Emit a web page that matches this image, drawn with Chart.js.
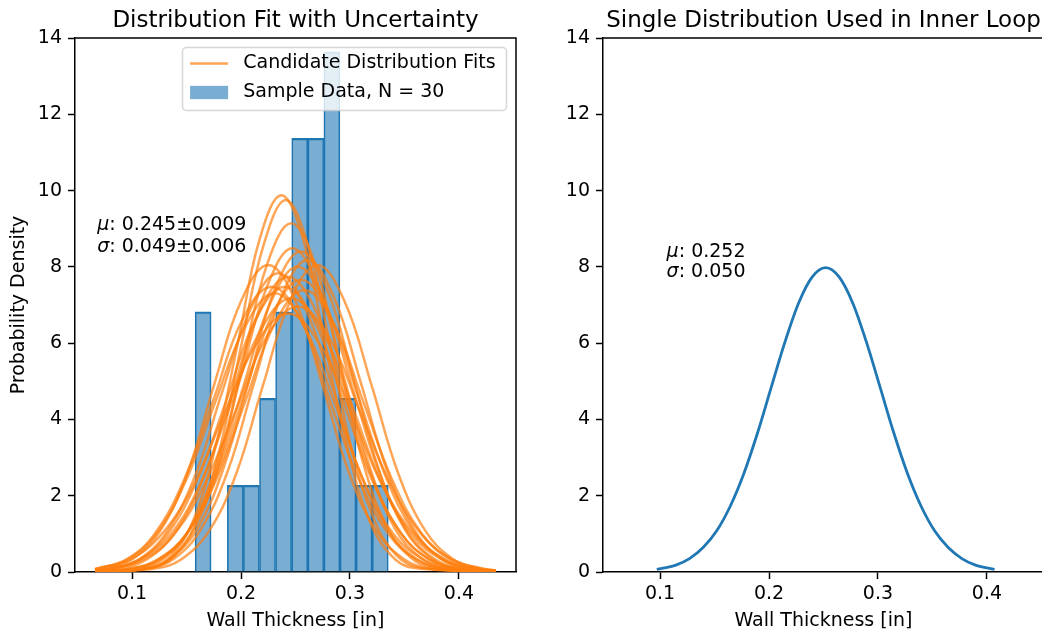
<!DOCTYPE html>
<html><head><meta charset="utf-8">
<script src="https://cdn.jsdelivr.net/npm/chart.js@4/dist/chart.umd.min.js"></script>
<style>
html,body{margin:0;padding:0;width:1042px;height:632px;overflow:hidden;background:#fff;}
canvas{position:absolute;top:0;}
#c1{left:0;}
#c2{left:540px;}
</style></head><body>
<canvas id="c1" width="540" height="632"></canvas>
<canvas id="c2" width="510" height="632"></canvas>
<script>
// ---------- data ----------
const xTickValues = [0.1, 0.2, 0.3, 0.4];
const yTickValues = [0, 2, 4, 6, 8, 10, 12, 14];
const binCenters = [0.1652, 0.1800, 0.1948, 0.2095, 0.2243, 0.2391, 0.2539, 0.2687, 0.2834, 0.2982, 0.3130, 0.3278];
const binDensity = [6.82, 0, 2.27, 2.27, 4.55, 6.82, 11.37, 11.37, 13.64, 4.55, 2.27, 2.27];
const candidateFits = [
 [[.066,0],[.116,.11],[.136,.43],[.156,1.34],[.176,3.21],[.197,5.99],[.217,8.72],[.237,9.88],[.257,8.72],[.277,5.99],[.298,3.21],[.318,1.34],[.338,.43],[.358,.11],[.434,0]],
 [[.066,0],[.118,.11],[.139,.43],[.159,1.32],[.180,3.17],[.200,5.91],[.221,8.60],[.241,9.75],[.261,8.60],[.282,5.91],[.302,3.17],[.323,1.32],[.343,.43],[.364,.11],[.434,0]],
 [[.066,0],[.115,.10],[.137,.40],[.159,1.24],[.181,2.97],[.202,5.54],[.224,8.07],[.246,9.14],[.268,8.07],[.290,5.54],[.311,2.97],[.333,1.24],[.355,.40],[.377,.10],[.434,0]],
 [[.066,0],[.106,.09],[.130,.37],[.153,1.15],[.177,2.76],[.200,5.15],[.224,7.49],[.247,8.49],[.271,7.49],[.294,5.15],[.318,2.76],[.341,1.15],[.365,.37],[.388,.09],[.434,0]],
 [[.066,0],[.113,.09],[.136,.37],[.160,1.14],[.184,2.73],[.208,5.09],[.231,7.41],[.255,8.40],[.279,7.41],[.303,5.09],[.326,2.73],[.350,1.14],[.374,.37],[.398,.09],[.434,.01]],
 [[.066,0],[.115,.09],[.139,.36],[.163,1.11],[.188,2.66],[.212,4.96],[.237,7.22],[.261,8.18],[.285,7.22],[.310,4.96],[.334,2.66],[.359,1.11],[.383,.36],[.407,.09],[.434,.01]],
 [[.066,0],[.121,.09],[.146,.35],[.171,1.09],[.196,2.61],[.220,4.88],[.245,7.10],[.270,8.05],[.295,7.10],[.320,4.88],[.344,2.61],[.369,1.09],[.394,.35],[.419,.09],[.434,.03]],
 [[.066,.05],[.076,.09],[.101,.35],[.126,1.09],[.151,2.61],[.175,4.88],[.200,7.10],[.225,8.05],[.250,7.10],[.275,4.88],[.299,2.61],[.324,1.09],[.349,.35],[.374,.09],[.434,0]],
 [[.066,.01],[.102,.09],[.127,.35],[.152,1.08],[.177,2.60],[.202,4.85],[.227,7.06],[.252,8.00],[.277,7.06],[.302,4.85],[.327,2.60],[.352,1.08],[.377,.35],[.402,.09],[.434,.01]],
 [[.066,.03],[.081,.09],[.107,.34],[.132,1.06],[.158,2.54],[.183,4.75],[.209,6.91],[.234,7.83],[.259,6.91],[.285,4.75],[.310,2.54],[.336,1.06],[.361,.34],[.387,.09],[.434,0]],
 [[.066,.02],[.089,.09],[.114,.34],[.140,1.05],[.166,2.51],[.192,4.69],[.217,6.83],[.243,7.74],[.269,6.83],[.295,4.69],[.320,2.51],[.346,1.05],[.372,.34],[.398,.09],[.434,.01]],
 [[.066,.01],[.099,.09],[.125,.34],[.151,1.04],[.177,2.49],[.203,4.65],[.229,6.76],[.255,7.66],[.281,6.76],[.307,4.65],[.333,2.49],[.359,1.04],[.385,.34],[.411,.09],[.434,.02]],
 [[.066,.07],[.095,.33],[.121,1.01],[.148,2.43],[.175,4.54],[.201,6.60],[.228,7.48],[.255,6.60],[.281,4.54],[.308,2.43],[.335,1.01],[.361,.33],[.388,.08],[.434,0]],
 [[.066,.04],[.080,.08],[.107,.33],[.133,1.01],[.160,2.43],[.187,4.54],[.213,6.60],[.240,7.48],[.267,6.60],[.293,4.54],[.320,2.43],[.347,1.01],[.373,.33],[.400,.08],[.434,.01]],
 [[.066,.01],[.096,.08],[.123,.32],[.150,1.00],[.177,2.40],[.204,4.48],[.231,6.52],[.258,7.39],[.285,6.52],[.312,4.48],[.339,2.40],[.366,1.00],[.393,.32],[.420,.08],[.434,.04]],
 [[.066,.08],[.095,.32],[.122,.99],[.149,2.37],[.176,4.43],[.204,6.45],[.231,7.31],[.258,6.45],[.286,4.43],[.313,2.37],[.340,.99],[.368,.32],[.395,.08],[.434,.01]],
 [[.066,.04],[.079,.08],[.107,.32],[.135,.97],[.163,2.33],[.190,4.35],[.218,6.34],[.246,7.18],[.274,6.34],[.302,4.35],[.329,2.33],[.357,.97],[.385,.32],[.413,.08],[.434,.02]],
 [[.066,.04],[.080,.08],[.109,.31],[.137,.94],[.166,2.26],[.195,4.22],[.223,6.14],[.252,6.96],[.281,6.14],[.309,4.22],[.338,2.26],[.367,.94],[.395,.31],[.424,.08],[.434,.04]],
 [[.066,.07],[.096,.30],[.125,.92],[.155,2.20],[.184,4.11],[.214,5.98],[.243,6.78],[.272,5.98],[.302,4.11],[.331,2.20],[.361,.92],[.390,.30],[.419,.08],[.434,.03]]
];
const singleFit = [[.097,.07],[.1145,.18],[.127,.35],[.1395,.64],[.152,1.08],[.1645,1.73],[.177,2.59],[.1895,3.65],[.202,4.84],[.2145,6.02],[.227,7.04],[.2395,7.73],[.252,7.98],[.2645,7.73],[.277,7.04],[.2895,6.02],[.302,4.84],[.3145,3.65],[.327,2.59],[.3395,1.73],[.352,1.08],[.3645,.64],[.377,.35],[.3895,.18],[.407,.07]];
const leftStats = [['μ', ': 0.245±0.009'], ['σ', ': 0.049±0.006']];
const rightStats = [['μ', ': 0.252'], ['σ', ': 0.050']];
const legendLabels = ['Candidate Distribution Fits', 'Sample Data, N = 30'];

// ---------- styling ----------
const FAM = '"DejaVu Sans", sans-serif';
const tickFont = {family: FAM, size: 19};
const X_MIN = 0.0476, X_MAX = 0.4524;
const ORANGE = 'rgba(255,127,14,0.7)';
const BLUE = '#1f77b4';
const BAR_FILL = 'rgba(31,119,180,0.6)';

function xScale() {
  return {
    type: 'linear', min: X_MIN, max: X_MAX, offset: false,
    afterBuildTicks: s => { s.ticks = xTickValues.map(v => ({value: v})); },
    afterFit: s => { s.height = 60; },
    ticks: {font: tickFont, color: '#000', padding: 4, maxRotation: 0, autoSkip: false, callback: v => v.toFixed(1)},
    grid: {display: true, offset: false, drawOnChartArea: false, drawTicks: true, tickLength: 7, tickColor: '#000', tickWidth: 1.5},
    border: {display: true, color: '#000', width: 1.5},
    title: {display: true, text: 'Wall Thickness [in]', font: tickFont, color: '#000', padding: {top: 4, bottom: 0}}
  };
}
function yScale(width, withTitle) {
  return {
    type: 'linear', min: 0, max: 14,
    afterBuildTicks: s => { s.ticks = yTickValues.map(v => ({value: v})); },
    afterFit: s => { s.width = width; },
    ticks: {font: tickFont, color: '#000', padding: 6, autoSkip: false},
    grid: {display: true, drawOnChartArea: false, drawTicks: true, tickLength: 7, tickColor: '#000', tickWidth: 1.5},
    border: {display: true, color: '#000', width: 1.5},
    title: {display: withTitle, text: 'Probability Density', font: tickFont, color: '#000', padding: {top: 8, bottom: 0}}
  };
}

const framePlugin = {
  id: 'frame',
  afterDraw(chart, args, opts) {
    const {ctx, chartArea: a} = chart;
    ctx.save();
    ctx.strokeStyle = '#000'; ctx.lineWidth = 1.5;
    ctx.beginPath(); ctx.moveTo(a.left, a.top); ctx.lineTo(a.right, a.top); ctx.lineTo(a.right, a.bottom); ctx.stroke();
    ctx.fillStyle = '#000';
    ctx.font = '23px ' + FAM;
    ctx.textAlign = 'center'; ctx.textBaseline = 'alphabetic';
    ctx.fillText(opts.title, (a.left + a.right) / 2, a.top - 11.4);
    const xs = chart.scales.x, ys = chart.scales.y;
    const px = xs.getPixelForValue(opts.statX), py = ys.getPixelForValue(opts.statY);
    ctx.textAlign = 'left';
    opts.stats.forEach((ln, i) => {
      const yy = py + i * opts.lineGap;
      ctx.font = 'italic 19px ' + FAM;
      ctx.fillText(ln[0], px, yy);
      const w = ctx.measureText(ln[0]).width;
      ctx.font = '19px ' + FAM;
      ctx.fillText(ln[1], px + w, yy);
    });
    ctx.restore();
  }
};

const legendPlugin = {
  id: 'mplLegend',
  afterDatasetsDraw(chart, args, opts) {
    if (!opts.show) return;
    const {ctx, chartArea: a} = chart;
    const w = 324, h = 63;
    const r = a.right - 9.5, l = r - w, t = a.top + 9.5;
    ctx.save();
    ctx.beginPath();
    if (ctx.roundRect) ctx.roundRect(l, t, w, h, 4); else ctx.rect(l, t, w, h);
    ctx.fillStyle = 'rgba(255,255,255,0.8)'; ctx.fill();
    ctx.strokeStyle = 'rgba(204,204,204,0.8)'; ctx.lineWidth = 1.5; ctx.stroke();
    const row1 = t + 16, row2 = t + 45;
    const hx0 = l + 7.6, hx1 = hx0 + 38;
    ctx.strokeStyle = ORANGE; ctx.lineWidth = 2.5;
    ctx.beginPath(); ctx.moveTo(hx0, row1); ctx.lineTo(hx1, row1); ctx.stroke();
    ctx.fillStyle = BAR_FILL;
    ctx.fillRect(hx0, row2 - 6.65, 38, 13.3);
    ctx.fillStyle = '#000'; ctx.font = '19px ' + FAM;
    ctx.textAlign = 'left'; ctx.textBaseline = 'middle';
    ctx.fillText(legendLabels[0], hx1 + 15.2, row1);
    ctx.fillText(legendLabels[1], hx1 + 15.2, row2);
    ctx.restore();
  }
};

const lineSets = candidateFits.map(pts => ({
  type: 'line',
  data: pts.map(p => ({x: p[0], y: p[1]})),
  borderColor: ORANGE, borderWidth: 2.5, pointRadius: 0, fill: false,
  tension: 0.4, order: 0
}));
const barSet = {
  type: 'bar',
  data: binCenters.map((x, i) => ({x: x, y: binDensity[i]})),
  backgroundColor: BAR_FILL, borderColor: BLUE,
  borderWidth: {top: 1.5, left: 1, right: 1, bottom: 0}, borderSkipped: false,
  barPercentage: 1, categoryPercentage: 1, order: 1
};

new Chart(document.getElementById('c1'), {
  type: 'bar',
  data: {datasets: [...lineSets, barSet]},
  options: {
    responsive: false, animation: false, devicePixelRatio: 1,
    layout: {padding: {top: 38, left: 0, right: 24, bottom: 0}},
    plugins: {
      legend: {display: false}, tooltip: {enabled: false}, title: {display: false},
      frame: {title: 'Distribution Fit with Uncertainty', stats: leftStats, statX: 0.068, statY: 8.97, lineGap: 22},
      mplLegend: {show: true}
    },
    scales: {x: xScale(), y: yScale(75, true)}
  },
  plugins: [framePlugin, legendPlugin]
});

new Chart(document.getElementById('c2'), {
  type: 'line',
  data: {datasets: [{
    data: singleFit.map(p => ({x: p[0], y: p[1]})),
    borderColor: BLUE, borderWidth: 2.8, pointRadius: 0, fill: false,
    cubicInterpolationMode: 'monotone'
  }]},
  options: {
    responsive: false, animation: false, devicePixelRatio: 1,
    layout: {padding: {top: 38, left: 0, right: 6, bottom: 0}},
    plugins: {
      legend: {display: false}, tooltip: {enabled: false}, title: {display: false},
      frame: {title: 'Single Distribution Used in Inner Loop', stats: rightStats, statX: 0.106, statY: 8.26, lineGap: 20.5},
      mplLegend: {show: false}
    },
    scales: {x: xScale(), y: yScale(63, false)}
  },
  plugins: [framePlugin, legendPlugin]
});
</script>
</body></html>
